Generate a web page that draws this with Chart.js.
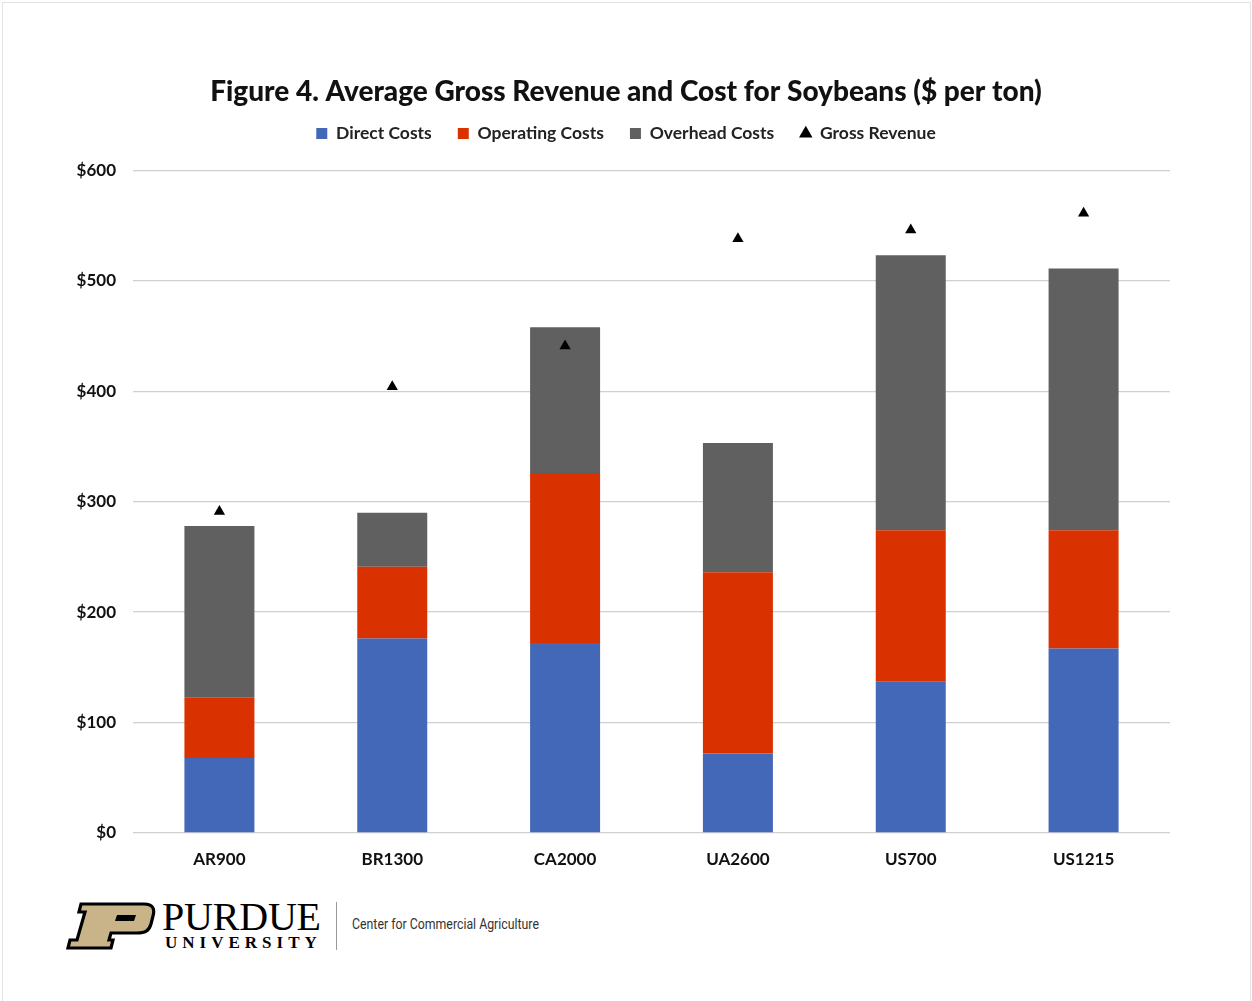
<!DOCTYPE html>
<html>
<head>
<meta charset="utf-8">
<script src="https://cdn.jsdelivr.net/npm/chart.js@4.4.1/dist/chart.umd.min.js"></script>
<style>
  body { margin: 0; background: #fff; }
  #page { position: absolute; left: 2px; top: 2px; width: 1247px; height: 1010px; border: 1px solid #e3e3e3; border-bottom: none; background: #fff; }
  #box { position: absolute; left: 0; top: 0; width: 1252px; height: 885px; }
  #logo { position: absolute; left: 64px; top: 900px; }
  #purdue { position: absolute; left: 162px; top: 893px; font-family: "Liberation Serif", "DejaVu Serif", serif; font-size: 40px; color: #000; letter-spacing: -0.2px; }
  #univ { position: absolute; left: 165px; top: 933px; font-family: "Liberation Serif", "DejaVu Serif", serif; font-weight: bold; font-size: 17px; color: #000; letter-spacing: 5px; }
  #sep { position: absolute; left: 336px; top: 902px; width: 1px; height: 48px; background: #999; }
  #cca { position: absolute; left: 352px; top: 916px; font-family: "Roboto", "Liberation Sans", sans-serif; font-size: 14px; color: #333; transform: scaleX(0.88); transform-origin: left; }
</style>
</head>
<body>
<div id="page"></div>
<div id="box"><canvas id="goo"></canvas></div>

<svg id="logo" width="92" height="52" viewBox="0 0 92 52">
  <path d="M22,4 L80,4 C89,4 91,9 89,16 L87,24 C85,31 81,33 73,33 L47,33 L45,40 L49,40 L47,48 L4,48 L6,40 L13,40 L21,12 L15,12 L17,4 Z"
        fill="#c9b48a" stroke="#000" stroke-width="3.2" stroke-linejoin="miter"/>
  <path d="M53,15 L72,15 L70,21 L51,21 Z" fill="#000"/>
</svg>
<div id="purdue">PURDUE</div>
<div id="univ">UNIVERSITY</div>
<div id="sep"></div>
<div id="cca">Center for Commercial Agriculture</div>

<script>
// data ($ per ton)
let labels = ["AR900", "BR1300", "CA2000", "UA2600", "US700", "US1215"];
let directCosts = [68, 176, 172, 72, 137, 167];
let operatingCosts = [55, 65, 154, 164, 137, 107];
let overheadCosts = [155, 49, 132, 117, 249, 237];
let grossRevenue = [291, 404, 441, 538, 546, 561];
let yTicks = [0, 100, 200, 300, 400, 500, 600];

let tickFont = { family: "Lato", size: 17, weight: "bold" };

// extra room under the legend, like the excel chart
let legendGap = {
    id: 'legendGap',
    beforeInit: function(chart) {
        let fit = chart.legend.fit;
        chart.legend.fit = function() {
            fit.bind(chart.legend)();
            this.height += 18;
        };
    }
};

var ctx = document.getElementById("goo").getContext('2d');
var goo = new Chart(ctx, {
    data: {
        labels: labels,
        datasets: [{
            type: 'bar',
            label: 'Direct Costs',
            data: directCosts,
            backgroundColor: '#4468b8',
            pointStyle: 'rect',
            stack: 'costs'
        }, {
            type: 'bar',
            label: 'Operating Costs',
            data: operatingCosts,
            backgroundColor: '#d93200',
            pointStyle: 'rect',
            stack: 'costs'
        }, {
            type: 'bar',
            label: 'Overhead Costs',
            data: overheadCosts,
            backgroundColor: '#606060',
            pointStyle: 'rect',
            stack: 'costs'
        }, {
            type: 'line',
            label: 'Gross Revenue',
            data: grossRevenue,
            showLine: false,
            pointStyle: 'triangle',
            pointRadius: 6.5,
            pointHoverRadius: 6.5,
            backgroundColor: '#000',
            borderColor: '#000',
            borderWidth: 0,
            stack: 'rev',
            order: -1
        }]
    },
    options: {
        responsive: true,
        maintainAspectRatio: false,
        animation: false,
        layout: { padding: { top: 82, right: 0, left: 0, bottom: 0 } },
        datasets: { bar: { categoryPercentage: 1, barPercentage: 0.405 } },
        plugins: {
            tooltip: { enabled: false },
            title: {
                display: true,
                text: 'Figure 4. Average Gross Revenue and Cost for Soybeans ($ per ton)',
                color: '#111',
                font: { family: "Lato", size: 28, weight: "900", lineHeight: 0.457 },
                padding: { top: 4, bottom: 0 }
            },
            legend: {
                position: 'top',
                labels: {
                    usePointStyle: true,
                    boxWidth: 11,
                    boxHeight: 11,
                    padding: 26,
                    color: '#222',
                    font: { family: "Lato", size: 17.5, weight: "bold" },
                    sort: function(a, b) { return a.datasetIndex - b.datasetIndex; }
                }
            }
        },
        scales: {
            x: {
                stacked: true,
                grid: { display: false, drawTicks: false },
                border: { display: false },
                ticks: { color: '#111', font: tickFont, padding: 16 },
                afterFit: function(scale) { scale.height = 52; }
            },
            y: {
                stacked: true,
                min: 0,
                max: 600,
                afterBuildTicks: function(scale) { scale.ticks = yTicks.map(function(v) { return { value: v }; }); },
                grid: { color: '#d0d0d0', lineWidth: 1.3, drawTicks: false },
                border: { display: false },
                ticks: {
                    color: '#111',
                    font: tickFont,
                    padding: 17,
                    callback: function(v) { return '$' + v; }
                },
                afterFit: function(scale) { scale.width = 133; }
            },
            // empty axis on the right, only to keep the plot off the edge
            yRight: {
                position: 'right',
                display: true,
                grid: { drawOnChartArea: false, drawTicks: false },
                border: { display: false },
                ticks: { display: false },
                afterFit: function(scale) { scale.width = 82; }
            }
        }
    },
    plugins: [legendGap]
});
</script>
</body>
</html>
